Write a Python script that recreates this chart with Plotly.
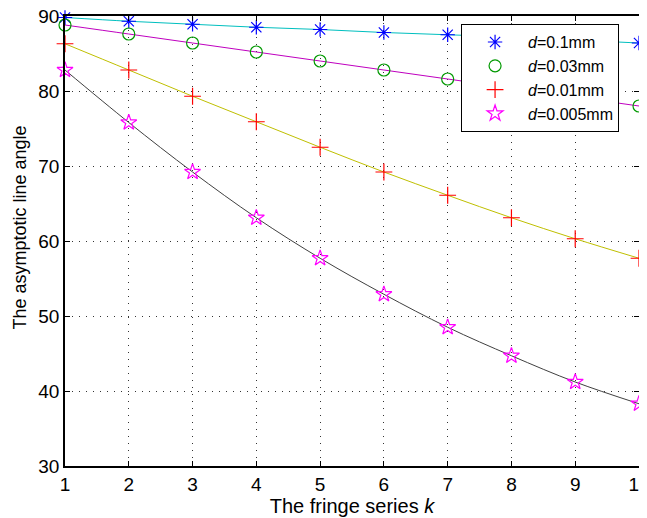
import plotly.graph_objects as go

k = [1, 2, 3, 4, 5, 6, 7, 8, 9, 10]
d_01 = [89.8, 89.3, 88.9, 88.5, 88.2, 87.8, 87.5, 87.2, 86.8, 86.4]
d_003 = [88.8, 87.6, 86.4, 85.2, 84.0, 82.8, 81.6, 80.4, 79.2, 78.0]
d_001 = [86.3, 82.8, 79.3, 75.9, 72.5, 69.2, 66.1, 63.1, 60.3, 57.7]
d_0005 = [82.8, 75.8, 69.2, 63.1, 57.7, 52.9, 48.5, 44.7, 41.2, 38.3]

series = [
    ("<i>d</i>=0.1mm", d_01, "#00bfbf", "asterisk-open", "blue"),
    ("<i>d</i>=0.03mm", d_003, "#bf00bf", "circle-open", "#009900"),
    ("<i>d</i>=0.01mm", d_001, "#bfbf00", "cross-thin-open", "red"),
    ("<i>d</i>=0.005mm", d_0005, "#404040", "star-open", "magenta"),
]

fig = go.Figure()
for name, ys, lc, sym, mc in series:
    fig.add_trace(go.Scatter(x=k, y=ys, mode="lines", line=dict(color=lc, width=1, shape="spline"),
                             showlegend=False, hoverinfo="skip", cliponaxis=False))
for name, ys, lc, sym, mc in series:
    fig.add_trace(go.Scatter(x=k, y=ys, mode="markers", name=name, cliponaxis=False,
                             marker=dict(symbol=sym, size=12, color=mc, line=dict(color=mc, width=1.2))))

axis_common = dict(
    showline=True, linecolor="black", linewidth=1.5, mirror="ticks",
    ticks="inside", ticklen=5, tickcolor="black",
    showgrid=True, gridcolor="#333333", gridwidth=1, griddash="1px,6px",
    zeroline=False, tickfont=dict(size=19, color="black"), automargin=False,
    ticklabeloverflow="allow",
)

# page body has an 8px margin, so the figure is sized to fit the 647x518 window
fig.update_layout(
    width=639, height=510,
    margin=dict(l=57, r=8, t=8, b=52),
    paper_bgcolor="white", plot_bgcolor="white",
    font=dict(family="Liberation Sans, Arial, sans-serif", color="black"),
    xaxis=dict(range=[1, 10], dtick=1, title=dict(text="The fringe series <i>k</i>", font=dict(size=20), standoff=3), **axis_common),
    yaxis=dict(range=[30, 90], dtick=10, **axis_common),
    legend=dict(x=0.69, y=0.982, xanchor="left", yanchor="top", bgcolor="white",
                bordercolor="black", borderwidth=1, font=dict(size=16), tracegroupgap=0,
                itemwidth=56),
    annotations=[dict(text="The asymptotic line angle", textangle=-90, xref="paper", yref="paper",
                      x=-0.08, y=0.53, xanchor="center", yanchor="middle", showarrow=False,
                      font=dict(size=18, color="black"))],
)

fig.write_html("out.html")
